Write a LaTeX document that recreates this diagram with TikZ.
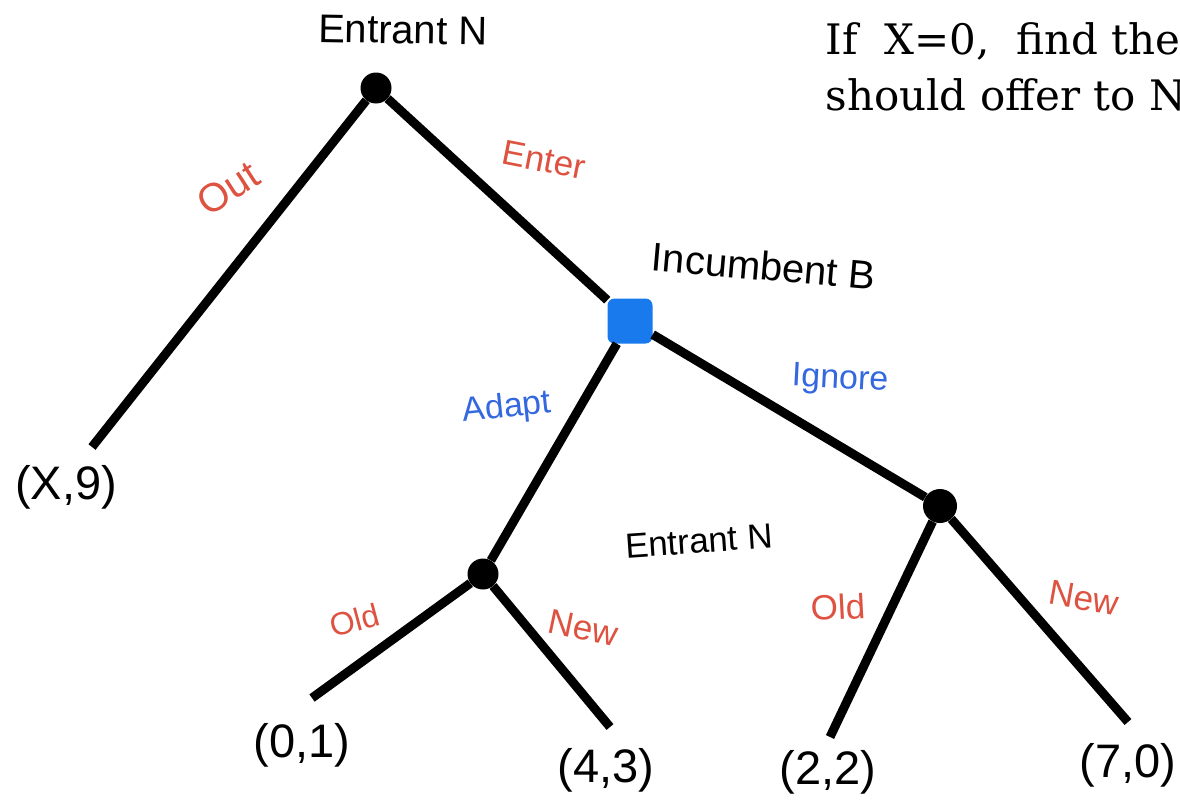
\documentclass[tikz,border=0pt]{standalone}
\usepackage{fontspec}
\setsansfont{Liberation Sans}
\newfontfamily\questfont{DejaVu Serif}
\usepackage{xcolor}
\usetikzlibrary{positioning}
\definecolor{actred}{RGB}{221,82,64}
\definecolor{actblue}{RGB}{52,104,222}
\definecolor{incblue}{RGB}{24,122,236}
\begin{document}
\begin{tikzpicture}[
    x=1pt, y=-1pt,
    decision/.style={circle, fill=black, inner sep=0pt, minimum size=31pt},
    incumbent/.style={rectangle, rounded corners=7pt, fill=incblue, inner sep=0pt, minimum size=45pt},
    branch/.style={line width=9pt},
    player/.style={font=\sffamily\fontsize{40}{48}\selectfont},
    smallplayer/.style={font=\sffamily\fontsize{35}{42}\selectfont},
    redact/.style={text=actred, font=\sffamily\fontsize{35}{42}\selectfont},
    blueact/.style={text=actblue, font=\sffamily\fontsize{34}{40}\selectfont},
    payoff/.style={font=\sffamily\fontsize{47}{56}\selectfont},
    question/.style={anchor=base west, font=\questfont\fontsize{42}{50}\selectfont}
]
\useasboundingbox (0,0) rectangle (1180,803);
\clip (0,0) rectangle (1180,803);
\node[decision] (rootN) at (376,88) {};
\node[incumbent] (incB) at (630,321) {};
\node[decision] (adaptN) at (483,574) {};
\node[decision, minimum size=34pt] (ignoreN) at (940,506) {};
\coordinate (outEnd) at (92,447);
\coordinate (adaptOld) at (312,698);
\coordinate (adaptNew) at (610,727);
\coordinate (ignoreOld) at (830,737);
\coordinate (ignoreNew) at (1128,722);
\draw[branch] (rootN) -- (outEnd);
\draw[branch] (rootN) -- (incB);
\draw[branch] (incB) -- (adaptN);
\draw[branch] (incB) -- (ignoreN);
\draw[branch] (adaptN) -- (adaptOld);
\draw[branch] (adaptN) -- (adaptNew);
\draw[branch] (ignoreN) -- (ignoreOld);
\draw[branch] (ignoreN) -- (ignoreNew);
\node[player, rotate=-1] (rootLab) at (403,30) {Entrant N};
\node[player, rotate=-5] (incLab) at (764,266) {Incumbent B};
\node[smallplayer, rotate=4] (lowLab) at (699,541) {Entrant N};
\node[redact, font=\sffamily\fontsize{40}{48}\selectfont, rotate=33] (outLab) at (228,188) {Out};
\node[redact, rotate=-11] (enterLab) at (544,160) {Enter};
\node[blueact, rotate=6] (adaptLab) at (507,408) {Adapt};
\node[blueact, rotate=-3] (ignoreLab) at (840,380) {Ignore};
\node[redact, font=\sffamily\fontsize{32}{38}\selectfont, rotate=15] (oldLabA) at (355,620) {Old};
\node[redact, rotate=-12] (newLabA) at (583,628) {New};
\node[redact, rotate=3] (oldLabB) at (838,607) {Old};
\node[redact, rotate=-10] (newLabB) at (1084,598) {New};
\node[payoff] (payX) at (66,487) {(X,9)};
\node[payoff] (payOne) at (302,745) {(0,1)};
\node[payoff] (payTwo) at (606,770) {(4,3)};
\node[payoff] (payThree) at (828,772) {(2,2)};
\node[payoff] (payFour) at (1128,765) {(7,0)};
\node[question] (qOne) at (822,54) {If\ \ X=0,\ \ find the};
\node[question] (qTwo) at (822,110) {should offer to N};
\end{tikzpicture}
\end{document}
